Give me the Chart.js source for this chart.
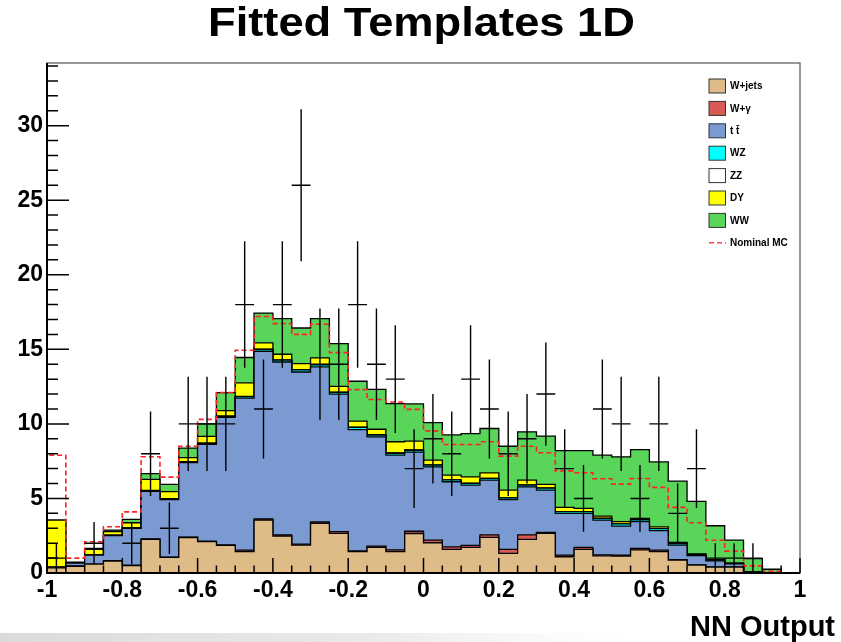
<!DOCTYPE html>
<html>
<head>
<meta charset="utf-8">
<title>Fitted Templates 1D</title>
<script src="https://cdn.jsdelivr.net/npm/chart.js@4.4.0/dist/chart.umd.min.js"></script>
<style>
  html, body { margin: 0; padding: 0; background: #fff; }
  #wrap { width: 841px; height: 642px; }
</style>
</head>
<body>
<div id="wrap"><canvas id="c" width="841" height="642"></canvas></div>
<script>
// bin lower edges of the NN output histogram (40 bins, width 0.05)
const binLow = [-1, -0.95, -0.9, -0.85, -0.8, -0.75, -0.7, -0.65, -0.6, -0.55,
  -0.5, -0.45, -0.4, -0.35, -0.3, -0.25, -0.2, -0.15, -0.1, -0.05,
  0, 0.05, 0.1, 0.15, 0.2, 0.25, 0.3, 0.35, 0.4, 0.45,
  0.5, 0.55, 0.6, 0.65, 0.7, 0.75, 0.8, 0.85, 0.9, 0.95];
const binWidth = 0.05;

// fitted templates, per process (stacked bottom -> top)
const wjets = [0.35, 0.45, 0.6, 0.8, 0.5, 2.25, 1.05, 2.38, 2.1, 1.85,
  1.43, 3.55, 2.48, 1.87, 3.33, 2.66, 1.43, 1.72, 1.43, 2.65,
  2.03, 1.59, 1.72, 2.39, 1.32, 2.25, 2.66, 1.09, 1.59, 1.15,
  1.14, 1.55, 1.43, 0.87, 0.53, 0.4, 0.4, 0.05, 0, 0];
const wgamma = [0, 0.02, 0, 0.02, 0.02, 0.03, 0.02, 0.03, 0.03, 0.03,
  0.1, 0.07, 0.07, 0.06, 0.09, 0.12, 0.05, 0.08, 0.12, 0.15,
  0.17, 0.16, 0.13, 0.16, 0.27, 0.3, 0.06, 0.11, 0.13, 0.07,
  0.06, 0.1, 0.1, 0.03, 0.02, 0.01, 0.01, 0, 0, 0];
const ttbar = [0.05, 0.2, 0.6, 1.68, 2.48, 3.2, 3.85, 5.0, 6.5, 8.55,
  10.2, 11.25, 11.6, 11.55, 10.4, 9.21, 8.14, 7.33, 6.35, 5.3,
  4.92, 4.37, 4.04, 3.68, 3.34, 3.23, 2.84, 2.8, 2.28, 2.33,
  1.95, 1.79, 1.31, 0.97, 0.62, 0.4, 0.2, 0.03, 0.01, 0];
const wz = [0, 0, 0.02, 0.03, 0.03, 0.05, 0.05, 0.05, 0.07, 0.08,
  0.1, 0.12, 0.12, 0.14, 0.14, 0.12, 0.14, 0.12, 0.13, 0.13,
  0.12, 0.12, 0.12, 0.11, 0.11, 0.11, 0.13, 0.11, 0.11, 0.11,
  0.14, 0.12, 0.13, 0.1, 0.06, 0.06, 0.04, 0.01, 0, 0];
const zz = [0, 0, 0, 0, 0, 0.01, 0.01, 0.01, 0.01, 0.01,
  0.02, 0.02, 0.02, 0.02, 0.02, 0.02, 0.02, 0.02, 0.02, 0.02,
  0.01, 0.01, 0.01, 0.01, 0.01, 0.01, 0.01, 0.01, 0.01, 0.01,
  0.01, 0.01, 0.01, 0.01, 0.01, 0.01, 0, 0, 0, 0];
const dy = [3.15, 0.03, 0.37, 0.24, 0.34, 0.74, 0.48, 0.27, 0.45, 0.37,
  0.9, 0.42, 0.38, 0.4, 0.44, 0.39, 0.4, 0.37, 0.75, 0.6,
  0.32, 0.31, 0.43, 0.37, 0.51, 0.33, 0.24, 0.28, 0.21, 0.15,
  0.14, 0.09, 0.11, 0.07, 0.04, 0.02, 0.01, 0, 0, 0];
const ww = [0, 0.02, 0.06, 0.11, 0.23, 0.39, 0.48, 0.64, 0.84, 1.21,
  1.7, 2.0, 2.39, 2.39, 2.64, 2.86, 2.68, 2.68, 2.56, 2.49,
  2.52, 2.7, 2.9, 2.97, 2.94, 3.24, 3.24, 3.8, 3.87, 4.08,
  4.35, 4.62, 4.36, 4.11, 3.52, 2.27, 1.54, 0.87, 0.24, 0];

// nominal MC total (red dashed) and observed data
const nominalMC = [7.9, 1.0, 2.1, 3.1, 4.1, 7.8, 6.43, 8.5, 10.3, 12.1,
  14.94, 17.2, 16.72, 16.0, 16.68, 14.78, 12.3, 11.63, 11.47, 10.97,
  9.53, 8.62, 8.62, 8.8, 7.84, 8.5, 8.06, 6.85, 6.72, 6.32,
  5.96, 6.34, 5.74, 4.4, 3.37, 2.2, 1.47, 0.48, 0.12, 0.02];
const dataCounts = [1, 0, 2, 0, 2, 8, 3, 10, 10, 10,
  18, 11, 18, 26, 14, 14, 18, 14, 13, 7,
  9, 8, 13, 11, 8, 9, 12, 7, 5, 11,
  10, 5, 10, 4, 7, 1, 1, 1, 0, 0];

const xTickValues = [-1, -0.8, -0.6, -0.4, -0.2, 0, 0.2, 0.4, 0.6, 0.8, 1];
const xTickLabels = ['-1', '-0.8', '-0.6', '-0.4', '-0.2', '0', '0.2', '0.4', '0.6', '0.8', '1'];
const yTickValues = [0, 5, 10, 15, 20, 25, 30];
const yTickLabels = ['0', '5', '10', '15', '20', '25', '30'];

const legendLabels = ['W+jets', 'W+\u03b3', 't t\u0304', 'WZ', 'ZZ', 'DY', 'WW', 'Nominal MC'];
const layerColors = ['#dfbb88', '#d85a55', '#7b9ad1', '#00ffff', '#ffffff', '#ffff00', '#59d55a'];
const layerValues = [wjets, wgamma, ttbar, wz, zz, dy, ww];

const FONT = "'Liberation Sans', Arial, Helvetica, sans-serif";

// histogram outline as step points: left edge of every bin, closed at the ends
function stepPoints(vals) {
  const pts = [{ x: binLow[0], y: 0 }];
  vals.forEach((v, i) => pts.push({ x: binLow[i], y: v }));
  pts.push({ x: binLow[binLow.length - 1] + binWidth, y: 0 });
  return pts;
}

// running sums for the stack
const running = new Array(binLow.length).fill(0);
const stackSets = layerValues.map((vals, k) => {
  const cum = vals.map((v, i) => (running[i] += v));
  return {
    label: legendLabels[k],
    data: stepPoints(cum),
    stepped: 'before',
    fill: 'origin',
    backgroundColor: layerColors[k],
    borderColor: '#000',
    borderWidth: 1.3,
    pointRadius: 0,
    tension: 0
  };
});

const nominalSet = {
  label: 'Nominal MC',
  data: stepPoints(nominalMC),
  stepped: 'before',
  fill: false,
  borderColor: '#ff2222',
  borderDash: [5, 3],
  borderWidth: 1.6,
  pointRadius: 0
};

// first dataset is drawn last (on top)
const datasets = [nominalSet].concat(stackSets);

const errorBars = {
  id: 'errorBars',
  afterDatasetsDraw(chart) {
    const { ctx, scales: { x, y } } = chart;
    ctx.save();
    ctx.strokeStyle = '#000';
    ctx.lineWidth = 1.4;
    dataCounts.forEach((n, i) => {
      if (n <= 0) return;
      const err = Math.sqrt(n);
      const xc = x.getPixelForValue(binLow[i] + binWidth / 2);
      ctx.beginPath();
      ctx.moveTo(x.getPixelForValue(binLow[i]), y.getPixelForValue(n));
      ctx.lineTo(x.getPixelForValue(binLow[i] + binWidth), y.getPixelForValue(n));
      ctx.moveTo(xc, y.getPixelForValue(Math.max(0, n - err)));
      ctx.lineTo(xc, y.getPixelForValue(n + err));
      ctx.stroke();
    });
    ctx.restore();
  }
};

const frameAndText = {
  id: 'frameAndText',
  afterDraw(chart) {
    const { ctx, chartArea: a, scales: { x, y } } = chart;
    ctx.save();

    // frame
    ctx.strokeStyle = '#555';
    ctx.lineWidth = 1.2;
    ctx.strokeRect(a.left, a.top, a.right - a.left, a.bottom - a.top);
    ctx.strokeStyle = '#000';
    ctx.lineWidth = 2;
    ctx.beginPath();
    ctx.moveTo(a.left, a.top);
    ctx.lineTo(a.left, a.bottom);
    ctx.lineTo(a.right, a.bottom);
    ctx.stroke();

    // inward ticks
    ctx.lineWidth = 1.5;
    ctx.beginPath();
    for (let v = 0; v <= y.max; v += 1) {
      const py = y.getPixelForValue(v);
      ctx.moveTo(a.left, py);
      ctx.lineTo(a.left + (v % 5 === 0 ? 22 : 11), py);
    }
    binLow.concat([1]).forEach((v, i) => {
      const px = x.getPixelForValue(v);
      ctx.moveTo(px, a.bottom);
      ctx.lineTo(px, a.bottom - (i % 4 === 0 ? 15 : 7.5));
    });
    ctx.stroke();

    // title, slightly stretched like the ROOT output
    ctx.fillStyle = '#000';
    ctx.font = 'bold 40px ' + FONT;
    const title = 'Fitted Templates 1D';
    const tw = ctx.measureText(title).width;
    ctx.translate(421.5, 36);
    ctx.scale(427 / tw, 1);
    ctx.textAlign = 'center';
    ctx.textBaseline = 'alphabetic';
    ctx.fillText(title, 0, 0);
    ctx.setTransform(1, 0, 0, 1, 0, 0);
    ctx.restore();

    ctx.save();
    // x axis title
    ctx.fillStyle = '#000';
    ctx.font = 'bold 29px ' + FONT;
    ctx.textAlign = 'right';
    ctx.textBaseline = 'alphabetic';
    ctx.fillText('NN Output', 835, 636);

    // legend
    const rowTop = 86, rowStep = 22.4;
    ctx.font = 'bold 10px ' + FONT;
    ctx.textAlign = 'left';
    ctx.textBaseline = 'middle';
    legendLabels.forEach((lab, k) => {
      const yc = rowTop + k * rowStep;
      if (k < layerColors.length) {
        ctx.fillStyle = layerColors[k];
        ctx.fillRect(709, yc - 7, 16.5, 14);
        ctx.strokeStyle = '#333';
        ctx.lineWidth = 1;
        ctx.strokeRect(709, yc - 7, 16.5, 14);
      } else {
        ctx.strokeStyle = '#ff4444';
        ctx.lineWidth = 1.6;
        ctx.setLineDash([5, 3]);
        ctx.beginPath();
        ctx.moveTo(709, yc);
        ctx.lineTo(726, yc);
        ctx.stroke();
        ctx.setLineDash([]);
      }
      ctx.fillStyle = '#000';
      ctx.fillText(lab, 730, yc + 0.5);
    });

    // faint grey streak at the bottom edge of the scan
    const g = ctx.createLinearGradient(0, 0, 620, 0);
    g.addColorStop(0, 'rgba(150,150,150,0.35)');
    g.addColorStop(0.6, 'rgba(170,170,170,0.25)');
    g.addColorStop(1, 'rgba(200,200,200,0)');
    ctx.fillStyle = g;
    ctx.fillRect(0, 633, 620, 9);
    ctx.restore();
  }
};

new Chart(document.getElementById('c'), {
  type: 'line',
  data: { datasets: datasets },
  options: {
    responsive: false,
    animation: false,
    layout: { padding: { left: 0, right: 41, top: 63, bottom: 0 } },
    plugins: {
      legend: { display: false },
      tooltip: { enabled: false },
      title: { display: false }
    },
    scales: {
      x: {
        type: 'linear',
        min: -1,
        max: 1,
        grid: { display: false, drawTicks: false },
        border: { display: false },
        afterBuildTicks(scale) {
          scale.ticks = xTickValues.map(v => ({ value: v }));
        },
        ticks: {
          autoSkip: false,
          maxRotation: 0,
          padding: 4,
          color: '#000',
          font: { family: FONT, size: 23, weight: 'bold' },
          callback: (v, i) => xTickLabels[i]
        },
        afterFit(scale) { scale.height = 69; }
      },
      y: {
        min: 0,
        max: 34.2,
        grid: { display: false, drawTicks: false },
        border: { display: false },
        afterBuildTicks(scale) {
          scale.ticks = yTickValues.map(v => ({ value: v }));
        },
        ticks: {
          padding: 4,
          color: '#000',
          font: { family: FONT, size: 23, weight: 'bold' },
          callback: (v, i) => yTickLabels[i]
        },
        afterFit(scale) { scale.width = 47; }
      }
    }
  },
  plugins: [errorBars, frameAndText]
});
</script>
</body>
</html>
